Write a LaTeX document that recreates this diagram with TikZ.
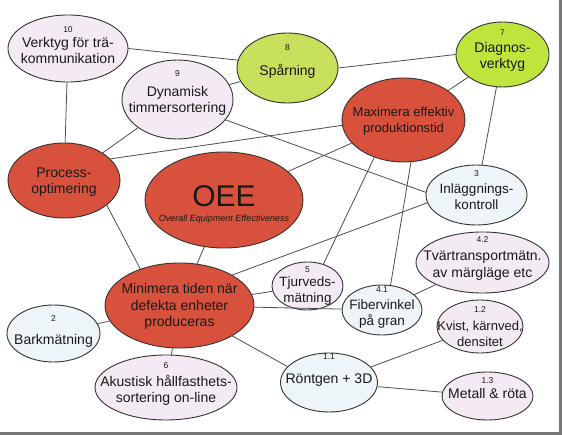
\documentclass[tikz,border=0pt]{standalone}
\usepackage{fontspec}
\setmainfont{Liberation Sans}
\usetikzlibrary{shapes.geometric,patterns}
\definecolor{oered}{HTML}{D8513D}
\definecolor{lavfill}{HTML}{F3EAF4}
\definecolor{palefill}{HTML}{EEF5F8}
\definecolor{diagfill}{HTML}{BFE43C}
\definecolor{sparfill}{HTML}{D2E86E}
\definecolor{sparline}{HTML}{B3D23C}
\definecolor{rimgray}{HTML}{333333}
\definecolor{linkgray}{HTML}{4D4D4D}
\definecolor{framegray}{HTML}{767676}
\newcommand{\ellnum}[1]{{\fontsize{8.5}{9}\selectfont #1}}

\begin{document}
\begin{tikzpicture}[x=1pt,y=-1pt,
  bub/.style={ellipse,draw=rimgray,line width=.9pt,inner sep=0pt},
  hub/.style={bub,fill=oered},
  lav/.style={bub,fill=lavfill},
  pale/.style={bub,fill=palefill},
  grn/.style={bub,fill=diagfill},
  hatchd/.style={bub,preaction={fill=sparfill},pattern=north east lines,pattern color=sparline},
  lbl/.style={font=\fontsize{14}{16.5}\selectfont,align=center,inner sep=0pt,text=black!90},
  link/.style={linkgray,line width=.8pt}]

\useasboundingbox (0,0) rectangle (562,435);
\fill[white] (0,0) rectangle (562,435);
\fill[framegray] (559,0) rectangle (562,435);
\fill[framegray] (0,432) rectangle (562,435);

% ---------------- top row -----------------------------------------------
\node[lav,minimum width=120pt,minimum height=67pt,
  label={[lbl,yshift=3.5pt]center:{\ellnum{10}\\[-1.5pt]Verktyg för trä-\\kommunikation}}]
  (verktyg) at (68,48.5) {};
\node[hatchd,minimum width=101pt,minimum height=70pt,
  label={[lbl,yshift=7pt]center:{\ellnum{8}\\[8.5pt]Spårning}}]
  (sparning) at (287.5,68) {};
\node[grn,minimum width=93pt,minimum height=65pt,
  label={[lbl,yshift=3.5pt]center:{\ellnum{7}\\[0pt]Diagnos-\\verktyg}}]
  (diagnos) at (502.5,54.5) {};
\node[lav,minimum width=111pt,minimum height=79pt,
  label={[lbl,yshift=6.5pt]center:{\ellnum{9}\\[3.5pt]Dynamisk\\timmersortering}}]
  (timmer) at (177.5,99.5) {};

% ---------------- red goals ---------------------------------------------
\node[hub,minimum width=123pt,minimum height=84pt,
  label={[lbl,font=\fontsize{13}{15.5}\selectfont,yshift=-1pt]center:{Maximera effektiv\\produktionstid}}]
  (maxprod) at (403.5,120) {};
\node[hub,minimum width=112pt,minimum height=75pt,
  label={[lbl,yshift=-1.5pt]center:{Process-\\optimering}}]
  (process) at (64,180.5) {};
\node[hub,minimum width=158pt,minimum height=96pt,
  label={[lbl,font=\fontsize{9}{11}\selectfont,yshift=-4pt]center:{{\fontsize{30}{30}\selectfont OEE}\\[4pt]\itshape Overall Equipment Effectiveness}}]
  (oee) at (224,200) {};
\node[hub,minimum width=149pt,minimum height=85pt,
  label={[lbl,yshift=-1pt]center:{Minimera tiden när\\defekta enheter\\produceras}}]
  (minimera) at (179.5,305.5) {};

% ---------------- measuring methods -------------------------------------
\node[pale,minimum width=101pt,minimum height=60pt,
  label={[lbl,font=\fontsize{13.5}{16}\selectfont,yshift=5pt]center:{\ellnum{3}\\[1.5pt]Inläggnings-\\kontroll}}]
  (inlagg) at (476.5,195) {};
\node[pale,minimum width=93pt,minimum height=57pt,
  label={[lbl,yshift=2.5pt]center:{\ellnum{2}\\[6.5pt]Barkmätning}}]
  (bark) at (53.5,333.5) {};
\node[lav,minimum width=142pt,minimum height=65pt,
  label={[lbl,yshift=3.5pt]center:{\ellnum{6}\\[1.5pt]Akustisk hållfasthets-\\sortering on-line}}]
  (akustisk) at (166,387.5) {};
\node[lav,minimum width=71pt,minimum height=48pt,
  label={[lbl,font=\fontsize{13.5}{16}\selectfont]center:{\ellnum{5}\\[-2.5pt]Tjurveds-\\mätning}}]
  (tjurved) at (307.5,286) {};
\node[pale,minimum width=80pt,minimum height=50pt,
  label={[lbl,font=\fontsize{13.5}{16}\selectfont,yshift=2.5pt]center:{\ellnum{4.1}\\[0.5pt]Fibervinkel\\på gran}}]
  (fiber) at (382,310) {};
\node[lav,minimum width=133pt,minimum height=61pt,
  label={[lbl,yshift=4pt]center:{\ellnum{4.2}\\[1.5pt]Tvärtransportmätn.\\av märgläge etc}}]
  (tvar) at (482.5,262.5) {};
\node[lav,minimum width=86pt,minimum height=53pt,
  label={[lbl,font=\fontsize{13}{16}\selectfont]center:{\ellnum{1.2}\\[2.5pt]Kvist, kärnved,\\densitet}}]
  (kvist) at (480,326.5) {};
\node[pale,minimum width=97pt,minimum height=59pt,
  label={[lbl,yshift=12pt]center:{\ellnum{1.1}\\[7.5pt]Röntgen + 3D}}]
  (rontgen) at (329,382.5) {};
\node[lav,minimum width=91pt,minimum height=48pt,
  label={[lbl,yshift=8pt]center:{\ellnum{1.3}\\[-1.5pt]Metall \& röta}}]
  (metall) at (487.5,396) {};

% ---------------- connectors --------------------------------------------
\draw[link] (verktyg.east) -- (sparning.171);
\draw[link] (verktyg) -- (process);
\draw[link] (timmer) -- (sparning);
\draw[link] (timmer) -- (process);
\draw[link] (timmer.337) -- (inlagg.177);
\draw[link] (process.25) -- (maxprod.185);
\draw[link] (sparning.east) -- (diagnos.west);
\draw[link] (maxprod) -- (diagnos);
\draw[link] (diagnos) -- (inlagg);
\draw[link] (oee) -- (maxprod);
\draw[link] (maxprod.232) -- (tjurved.54);
\draw[link] (maxprod.280) -- (fiber.71);
\draw[link] (process.330) -- (minimera.137);
\draw[link] (oee) -- (minimera);
\draw[link] (minimera.30) -- (inlagg.189);
\draw[link] (minimera) -- (tjurved);
\draw[link] (minimera) -- (fiber);
\draw[link] (minimera.330) -- (rontgen.159);
\draw[link] (minimera) -- (bark);
\draw[link] (minimera) -- (akustisk);
\draw[link] (fiber) -- (tvar);
\draw[link] (rontgen) -- (kvist);
\draw[link] (rontgen) -- (metall);

\end{tikzpicture}
\end{document}
